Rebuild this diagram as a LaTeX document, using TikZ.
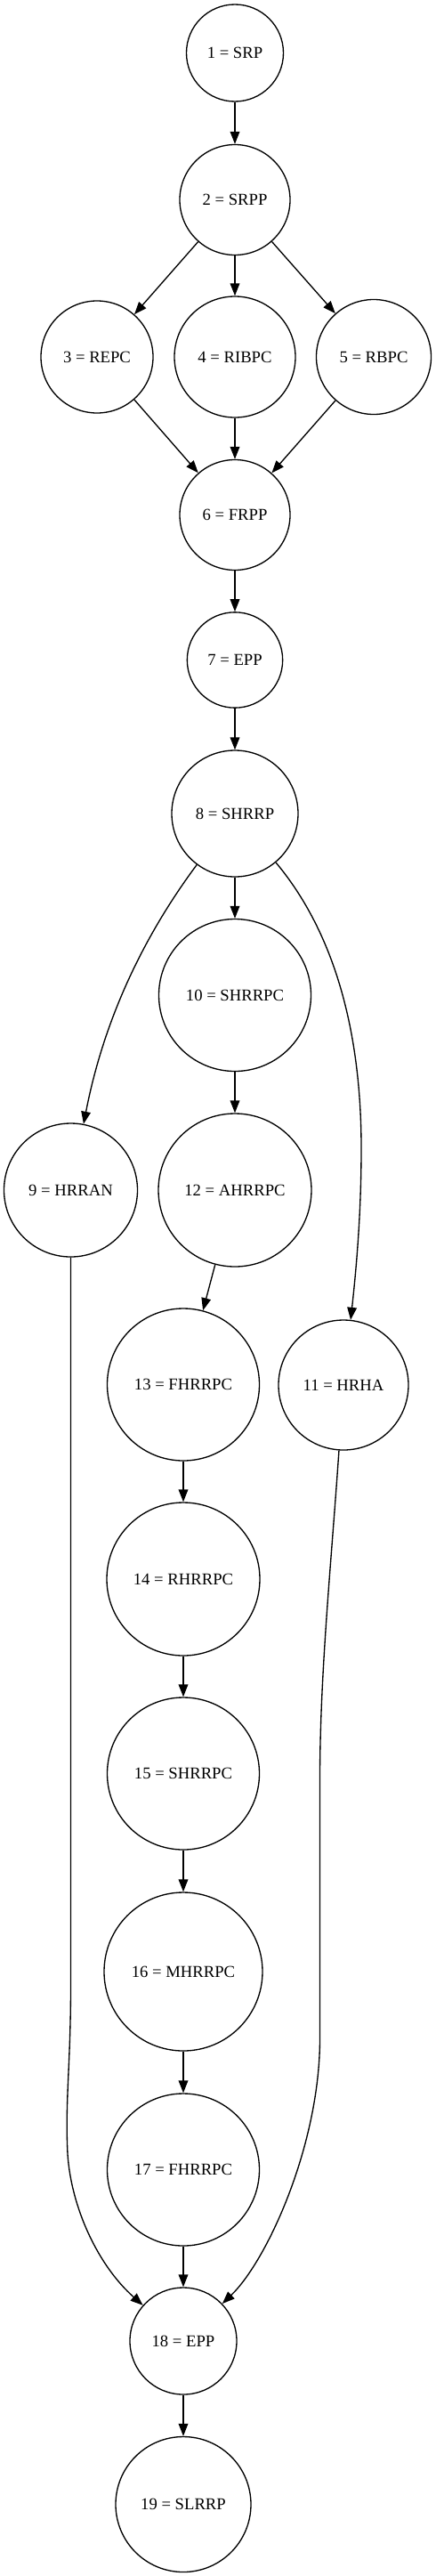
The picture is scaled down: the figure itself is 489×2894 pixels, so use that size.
\documentclass[tikz,border=0pt]{standalone}
\usepackage{fontspec}
\setmainfont{Liberation Serif}
\usetikzlibrary{arrows.meta}
\begin{document}
\begin{tikzpicture}[x=0.75pt,y=-0.75pt,
  st/.style={circle,draw,line width=1pt,inner sep=0pt,font=\fontsize{14}{16}\selectfont},
  ar/.style={-{Triangle[length=10.5pt,width=8pt]},line width=1pt}]
\useasboundingbox (0,0) rectangle (489,2894);
\node[st,minimum size=81.75pt] (n1) at (264,59.5) {1 = SRP};
\node[st,minimum size=93pt] (n2) at (264,224.5) {2 = SRPP};
\node[st,minimum size=94.5pt] (n3) at (109,401) {3 = REPC};
\node[st,minimum size=102pt] (n4) at (264,401) {4 = RIBPC};
\node[st,minimum size=96.75pt] (n5) at (420,401) {5 = RBPC};
\node[st,minimum size=93pt] (n6) at (264,578.5) {6 = FRPP};
\node[st,minimum size=80.5pt] (n7) at (264,741.5) {7 = EPP};
\node[st,minimum size=106.5pt] (n8) at (264,914) {8 = SHRRP};
\node[st,minimum size=112.5pt] (n9) at (79.5,1337) {9 = HRRAN};
\node[st,minimum size=128.25pt] (n10) at (264,1118) {10 = SHRRPC};
\node[st,minimum size=109.5pt] (n11) at (386,1556) {11 = HRHA};
\node[st,minimum size=129pt] (n12) at (264,1337) {12 = AHRRPC};
\node[st,minimum size=128.25pt] (n13) at (206,1555.5) {13 = FHRRPC};
\node[st,minimum size=129pt] (n14) at (206,1774) {14 = RHRRPC};
\node[st,minimum size=128.25pt] (n15) at (206,1992.5) {15 = SHRRPC};
\node[st,minimum size=133.5pt] (n16) at (206,2215) {16 = MHRRPC};
\node[st,minimum size=128.25pt] (n17) at (206,2437.5) {17 = FHRRPC};
\node[st,minimum size=90pt] (n18) at (206,2630) {18 = EPP};
\node[st,minimum size=114pt] (n19) at (206,2813.5) {19 = SLRRP};
\coordinate (w811) at (406,1290);
\coordinate (w9a) at (79.5,2230);
\coordinate (w9b) at (76,2420);
\coordinate (w11a) at (359.5,2000);
\coordinate (w11b) at (359.5,2290);
\draw[ar] (n1) -- (n2);
\draw[ar] (n2) -- (n3);
\draw[ar] (n2) -- (n4);
\draw[ar] (n2) -- (n5);
\draw[ar] (n3) -- (n6);
\draw[ar] (n4) -- (n6);
\draw[ar] (n5) -- (n6);
\draw[ar] (n6) -- (n7);
\draw[ar] (n7) -- (n8);
\draw[ar] (n8) -- (n10);
\draw[ar] (n8) .. controls (162,1051) and (117,1144) .. (n9);
\draw[ar] (n8) .. controls (367,1037) and (406,1140) .. (w811) .. controls (406,1360) and (401,1420) .. (n11);
\draw[ar] (n10) -- (n12);
\draw[ar] (n12) -- (n13);
\draw[ar] (n13) -- (n14);
\draw[ar] (n14) -- (n15);
\draw[ar] (n15) -- (n16);
\draw[ar] (n16) -- (n17);
\draw[ar] (n17) -- (n18);
\draw[ar] (n18) -- (n19);
\draw[ar] (n9) -- (w9a) .. controls (79.5,2320) and (73,2360) .. (w9b) .. controls (80,2480) and (110,2545) .. (n18);
\draw[ar] (n11) .. controls (372,1760) and (359.5,1880) .. (w11a) -- (w11b) .. controls (359.5,2410) and (300,2540) .. (n18);
\end{tikzpicture}
\end{document}
